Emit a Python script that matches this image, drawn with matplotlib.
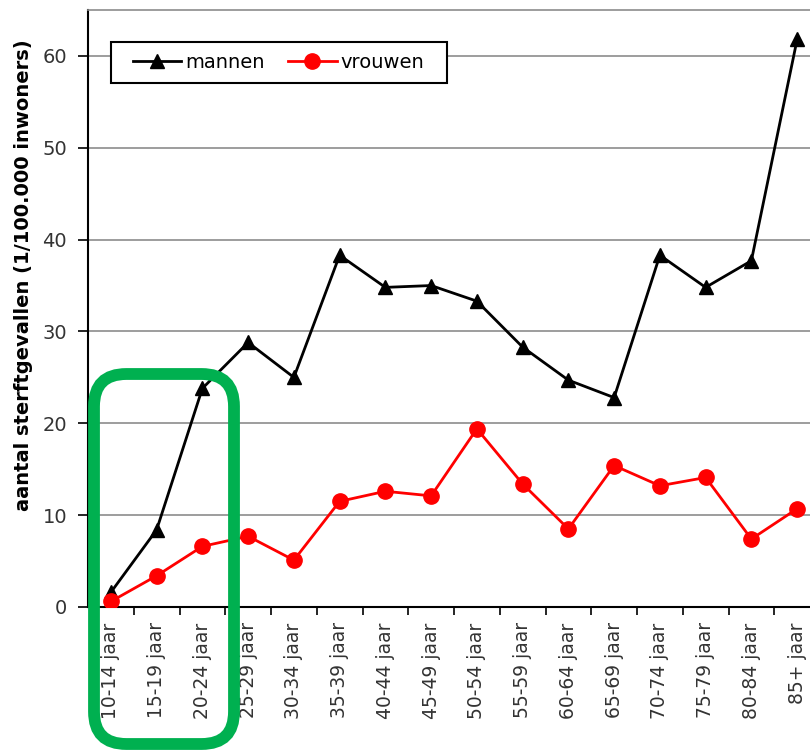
import matplotlib.pyplot as plt
from matplotlib.patches import FancyBboxPatch, Rectangle
from matplotlib.ticker import FixedLocator

# sterfte per leeftijdsgroep, per 100.000 inwoners
leeftijden = ["10-14 jaar", "15-19 jaar", "20-24 jaar", "25-29 jaar", "30-34 jaar",
              "35-39 jaar", "40-44 jaar", "45-49 jaar", "50-54 jaar", "55-59 jaar",
              "60-64 jaar", "65-69 jaar", "70-74 jaar", "75-79 jaar", "80-84 jaar",
              "85+ jaar"]
mannen = [1.6, 8.4, 23.8, 28.8, 25.0, 38.3, 34.8, 35.0, 33.3, 28.3,
          24.7, 22.8, 38.3, 34.8, 37.7, 61.8]
vrouwen = [0.6, 3.4, 6.6, 7.7, 5.1, 11.5, 12.6, 12.1, 19.4, 13.4,
           8.5, 15.4, 13.2, 14.1, 7.4, 10.7]

W, H = 810, 752
fig = plt.figure(figsize=(W / 100, H / 100), dpi=100)
# plot area runs past the right edge of the image
ax = fig.add_axes([88 / W, 1 - 607 / H, (820 - 88) / W, 597 / H])

x = list(range(len(leeftijden)))
ax.plot(x, mannen, color="black", lw=2, marker="^", ms=10, label="mannen", zorder=3)
ax.plot(x, vrouwen, color="#ff0000", lw=2, marker="o", ms=11, label="vrouwen", zorder=3)

ax.set_xlim(-0.5, len(leeftijden) - 0.5)
ax.set_ylim(0, 65)
ax.set_yticks(range(0, 61, 10))
ax.yaxis.grid(True, color="#8c8c8c", lw=1.2)
ax.set_axisbelow(True)

ax.set_xticks(x)
ax.set_xticklabels(leeftijden, rotation=90, fontsize=13.5, color="#333333")
ax.xaxis.set_minor_locator(FixedLocator([i + 0.5 for i in x[:-1]]))
ax.tick_params(axis="x", which="major", length=0, pad=11)
ax.tick_params(axis="x", which="minor", length=6, width=1.2, direction="out")
ax.tick_params(axis="y", length=7, width=1.2, labelsize=14, labelcolor="#333333", pad=8)

ax.spines["left"].set_linewidth(1.5)
ax.spines["bottom"].set_linewidth(1.5)
ax.spines["top"].set_color("#8c8c8c")
ax.spines["top"].set_linewidth(1.2)
ax.spines["right"].set_visible(False)

ax.set_ylabel("aantal sterftgevallen (1/100.000 inwoners)", fontsize=14,
              fontweight="bold")
ax.yaxis.set_label_coords(-55 / 732, 332 / 597)

# legend without its own frame; the box is drawn separately so the
# horizontal padding can be wider than the vertical one
leg = ax.legend(loc="upper left", bbox_to_anchor=(34 / 732, 1 - 32 / 597), ncol=2,
                frameon=False, fontsize=14, handlelength=2.5,
                columnspacing=1.2, handletextpad=0.2, borderpad=0.55,
                borderaxespad=0)
frame = Rectangle((111 / W, 1 - 83 / H), (447 - 111) / W, (83 - 42) / H,
                  transform=fig.transFigure, fill=True, facecolor="white",
                  edgecolor="black", lw=1.5, zorder=4)
fig.add_artist(frame)
leg.set_zorder(5)
fig.add_artist(leg)

# groene kader rond de jongste leeftijdsgroepen
box = FancyBboxPatch((94 / W, 1 - 744 / H), (234 - 94) / W, (744 - 374) / H,
                     boxstyle="round,pad=0,rounding_size=0.04",
                     transform=fig.transFigure, fill=False,
                     edgecolor="#00b050", lw=8.5, zorder=10, clip_on=False,
                     mutation_aspect=W / H)
fig.add_artist(box)

fig.savefig("out.png", dpi=100)
